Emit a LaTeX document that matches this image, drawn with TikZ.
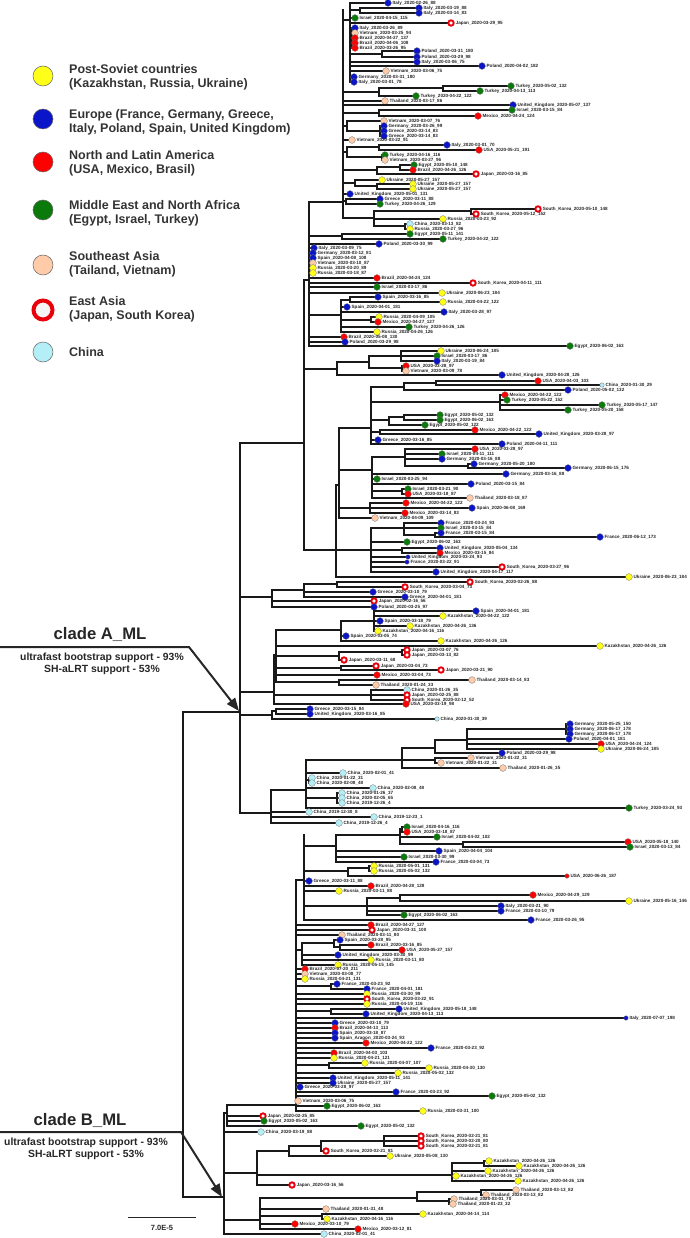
\documentclass[tikz,border=0pt]{standalone}
\usepackage{fontspec}
\setmainfont{Liberation Sans}
\usetikzlibrary{arrows.meta}

\definecolor{postsoviet}{HTML}{FFFF1A}
\definecolor{europe}{HTML}{0A14C8}
\definecolor{america}{HTML}{FF0000}
\definecolor{mena}{HTML}{0A7A0A}
\definecolor{seasia}{HTML}{FFCBA8}
\definecolor{eastasia}{HTML}{E8000B}
\definecolor{china}{HTML}{B4EEF7}
\newcommand{\taxonfont}{\fontsize{4.6}{5}\selectfont\bfseries}

\begin{document}
\begin{tikzpicture}[
    x=1pt, y=-1pt,
    branch/.style={line width=1.1pt, black!90, line cap=rect},
    leafdot/.style={circle, draw=black!55, line width=0.3pt, inner sep=0pt, minimum size=6.8pt},
    leafY/.style={leafdot, fill=postsoviet},
    leafB/.style={leafdot, fill=europe},
    leafR/.style={leafdot, fill=america},
    leafG/.style={leafdot, fill=mena},
    leafP/.style={leafdot, fill=seasia},
    leafC/.style={leafdot, fill=china},
    leafE/.style={circle, draw=eastasia, line width=1.9pt, fill=white, inner sep=0pt, minimum size=5.4pt},
    leafb/.style={leafB, minimum size=4.5pt},
    leafc/.style={leafC, minimum size=4.5pt},
    leafr/.style={leafR, minimum size=4.5pt},
    taxon/.style={anchor=west, inner sep=0.9pt, font=\taxonfont, text=black!85},
    legendkey/.style={circle, draw=black!60, line width=0.5pt, inner sep=0pt, minimum size=20pt},
    legendtext/.style={anchor=west, align=left, inner sep=0pt, font=\fontsize{12.5}{14}\selectfont\bfseries, text=black!80},
    cladename/.style={font=\fontsize{16.7}{18}\selectfont\bfseries, text=black!85},
    cladesupport/.style={align=center, font=\fontsize{10.4}{12}\selectfont\bfseries, text=black!85},
    cladearrow/.style={line width=2pt, black!85, -{Triangle[length=13pt,width=10pt]}}
]
\useasboundingbox (0,0) rectangle (689,1238);

% Legend
\node[legendkey, fill=postsoviet] (keyPS) at (43,76) {};
\node[legendtext] (txtPS) at (69,77) {Post-Soviet countries\\(Kazakhstan, Russia, Ukraine)};
\node[legendkey, fill=europe] (keyEU) at (43,119) {};
\node[legendtext] (txtEU) at (69,122) {Europe (France, Germany, Greece,\\Italy, Poland, Spain, United Kingdom)};
\node[legendkey, fill=america] (keyAM) at (43,162) {};
\node[legendtext] (txtAM) at (69,163) {North and Latin America\\(USA, Mexico, Brasil)};
\node[legendkey, fill=mena] (keyME) at (43,210) {};
\node[legendtext] (txtME) at (69,213) {Middle East and North Africa\\(Egypt, Israel, Turkey)};
\node[legendkey, fill=seasia] (keySE) at (43,265) {};
\node[legendtext] (txtSE) at (69,264) {Southeast Asia\\(Tailand, Vietnam)};
\node[legendkey, draw=eastasia, line width=4pt, fill=black!4, minimum size=19pt] (keyEA) at (43,310) {};
\node[legendtext] (txtEA) at (69,309) {East Asia\\(Japan, South Korea)};
\node[legendkey, fill=china] (keyCN) at (43,352) {};
\node[legendtext] (txtCN) at (69,352) {China};

% Internal nodes: x / top / bottom / parent x / joining y
\foreach \x/\ya/\yb/\px/\yc in {
    343/10/218/309/202, 350/3/82/343/20, 360/8/13/350/10, 352/28/48/350/38,
    382/51/57/350/54, 379/88/96/343/92, 443/86/91/379/88, 379/110/116/343/113,
    347/121/131/343/126, 380/126/136/347/131, 347/147/157/343/152,
    379/145/150/347/147, 382/155/160/347/157, 377/167/174/343/170,
    400/165/170/377/167, 355/180/186/343/183, 377/184/189/355/186,
    346/199/204/343/201, 374/211/226/343/218, 471/209/214/374/211,
    405/224/229/374/226,
    309/202/346/304/280, 342/234/239/309/236, 341/300/332/309/315,
    350/297/302/341/300, 371/317/322/341/320,
    304/280/550/240/443, 337/362/375/304/369, 369/356/368/337/362,
    401/351/361/369/356, 402/366/371/369/368,
    336/485/577/304/550, 339/428/518/336/485, 371/387/444/339/428,
    404/383/390/371/387, 436/381/385/404/383, 500/395/410/371/402,
    389/417/425/371/420, 404/415/420/389/417, 380/430/434/371/432,
    372/457/498/339/470, 405/449/466/372/457, 468/464/468/405/466,
    402/489/494/372/491, 370/503/513/339/508,
    371/528/572/336/550, 404/523/535/371/528, 435/533/537/404/535,
    402/548/553/371/550,
    240/443/813/183/712,
    272/590/607/240/597, 304/584/597/272/590, 337/582/587/304/584,
    274/655/704/240/692, 276/630/682/274/655, 341/621/641/276/630,
    374/611/631/341/621, 339/652/660/276/656, 402/650/655/339/652,
    341/666/670/276/668, 339/680/685/276/682, 371/690/700/274/695,
    272/711/719/240/715, 276/709/714/272/711,
    271/790/823/240/813, 306/760/808/271/790, 402/748/768/306/760,
    435/740/753/402/748, 467/729/749/435/740, 566/724/734/467/729,
    435/758/763/402/760, 309/778/783/306/780, 337/793/803/306/798,
    224/1113/1234/183/1197, 227/1105/1126/224/1113,
    296/880/1111/227/1105, 304/835/920/296/880, 336/835/862/304/846,
    400/829/844/336/835, 402/827/832/400/829, 463/842/847/400/844,
    348/868/876/304/871, 369/866/871/348/868, 367/898/915/304/906,
    400/895/901/367/898, 302/943/965/296/950, 334/940/947/302/943,
    340/945/950/334/947, 331/984/989/296/986, 331/1009/1014/296/1011,
    329/1063/1068/296/1065,
    257/1151/1185/224/1173, 289/1146/1156/257/1151, 321/1141/1151/289/1146,
    384/1136/1146/321/1141, 452/1163/1181/257/1175, 484/1161/1166/452/1163,
    260/1198/1229/224/1220, 417/1192/1201/260/1198, 481/1190/1195/417/1192,
    449/1199/1204/417/1201, 322/1214/1219/260/1216
}
{
    \draw[branch] (\x,\ya) -- (\x,\yb);
    \draw[branch] (\px,\yc) -- (\x,\yc);
}
% Root
\draw[branch] (183,712) -- (183,1197);

% Leaves: parent x / tip x / y / region / name
\foreach \px/\tx/\ty/\st/\lab [count=\n] in {
    350/388/3/B/Italy\_2020-02-26\_88,
    360/419/8/B/Italy\_2020-03-19\_88,
    360/419/13/B/Italy\_2020-03-14\_83,
    350/355/18/G/Israel\_2020-04-15\_115,
    350/451/23/E/Japan\_2020-03-29\_95,
    352/355/28/B/Italy\_2020-03-26\_89,
    352/355/33/P/Vietnam\_2020-03-25\_94,
    352/355/38/R/Brazil\_2020-04-27\_137,
    352/355/43/R/Brazil\_2020-04-06\_108,
    352/355/48/R/Brazil\_2020-03-26\_95,
    382/417/51/B/Poland\_2020-03-31\_180,
    382/417/57/B/Poland\_2020-03-29\_98,
    350/417/62/B/Italy\_2020-03-06\_75,
    350/482/66/B/Poland\_2020-04-02\_182,
    350/386/71/P/Vietnam\_2020-03-06\_75,
    350/354/77/B/Germany\_2020-03-31\_180,
    350/354/82/B/Italy\_2020-03-01\_78,
    443/511/86/G/Turkey\_2020-05-02\_132,
    443/480/91/G/Turkey\_2020-04-13\_113,
    379/416/96/G/Turkey\_2020-04-22\_122,
    343/385/101/P/Thailand\_2020-03-17\_86,
    343/513/105/B/United\_Kingdom\_2020-05-07\_137,
    379/512/110/G/Israel\_2020-03-15\_84,
    379/478/116/R/Mexico\_2020-04-24\_124,
    347/384/121/P/Vietnam\_2020-03-07\_76,
    380/384/126/B/Germany\_2020-03-26\_99,
    380/384/131/B/Greece\_2020-03-14\_83,
    380/384/136/B/Greece\_2020-03-14\_83,
    343/352/140/P/Vietnam\_2020-03-22\_91,
    379/447/145/B/Italy\_2020-03-01\_70,
    379/479/150/R/USA\_2020-05-21\_191,
    382/385/155/G/Turkey\_2020-04-16\_116,
    382/385/160/P/Vietnam\_2020-03-27\_96,
    400/414/165/G/Egypt\_2020-05-10\_148,
    400/413/170/R/Brazil\_2020-04-26\_126,
    377/476/174/E/Japan\_2020-03-16\_85,
    355/382/180/Y/Ukraine\_2020-05-27\_157,
    377/413/184/Y/Ukraine\_2020-05-27\_157,
    377/413/189/Y/Ukraine\_2020-05-27\_157,
    343/350/194/B/United\_Kingdom\_2020-05-01\_131,
    346/380/199/B/Greece\_2020-03-11\_88,
    346/380/204/G/Turkey\_2020-04-26\_129,
    471/538/209/E/South\_Korea\_2020-05-10\_148,
    471/476/214/E/South\_Korea\_2020-05-12\_152,
    374/443/219/Y/Russia\_2020-03-23\_92,
    405/410/224/C/China\_2020-03-13\_82,
    405/410/229/Y/Russia\_2020-03-27\_96,
    342/410/234/G/Egypt\_2020-05-11\_141,
    342/443/239/G/Turkey\_2020-04-22\_122,
    309/379/244/B/Poland\_2020-03-30\_99,
    309/314/248/B/Italy\_2020-03-09\_75,
    309/313/253/B/Germany\_2020-03-12\_81,
    309/313/258/B/Spain\_2020-04-08\_108,
    309/313/263/P/Vietnam\_2020-03-10\_87,
    309/313/268/Y/Russia\_2020-03-20\_89,
    309/313/273/Y/Russia\_2020-03-18\_87,
    309/377/278/R/Brazil\_2020-04-24\_124,
    309/473/283/E/South\_Korea\_2020-04-11\_111,
    309/377/287/G/Israel\_2020-03-17\_86,
    309/442/293/Y/Ukraine\_2020-06-23\_184,
    350/378/297/B/Spain\_2020-03-16\_85,
    350/443/302/Y/Russia\_2020-04-22\_122,
    341/347/307/B/Spain\_2020-04-01\_181,
    341/444/312/B/Italy\_2020-03-28\_97,
    371/379/317/Y/Russia\_2020-04-09\_105,
    371/378/322/R/Mexico\_2020-04-27\_127,
    341/409/327/G/Turkey\_2020-04-26\_126,
    341/377/332/Y/Russia\_2020-04-26\_126,
    309/344/337/R/Brazil\_2020-05-08\_130,
    309/345/342/B/Poland\_2020-03-29\_98,
    309/570/346/G/Egypt\_2020-06-02\_163,
    401/441/351/Y/Ukraine\_2020-06-24\_185,
    401/437/356/G/Israel\_2020-03-17\_86,
    401/437/361/B/Italy\_2020-03-19\_84,
    402/406/366/R/USA\_2020-03-28\_97,
    402/406/371/P/Vietnam\_2020-03-09\_78,
    337/502/375/B/United\_Kingdom\_2020-04-28\_126,
    436/538/381/R/USA\_2020-04-03\_103,
    436/602/385/c/China\_2020-01-30\_29,
    404/568/390/B/Poland\_2020-05-02\_132,
    500/505/395/R/Mexico\_2020-04-22\_122,
    500/507/400/G/Turkey\_2020-05-22\_152,
    500/602/405/G/Turkey\_2020-05-17\_147,
    500/568/410/G/Turkey\_2020-05-20\_158,
    404/440/415/G/Egypt\_2020-05-02\_132,
    404/440/420/G/Egypt\_2020-06-02\_163,
    389/425/425/G/Egypt\_2020-05-02\_122,
    380/475/430/R/Mexico\_2020-04-22\_122,
    380/539/434/B/United\_Kingdom\_2020-03-28\_97,
    371/378/440/B/Greece\_2020-03-16\_85,
    371/502/444/B/Poland\_2020-04-11\_111,
    405/475/449/R/USA\_2020-03-28\_97,
    405/442/454/G/Israel\_2020-04-11\_111,
    405/442/459/B/Germany\_2020-03-16\_88,
    468/474/464/B/Germany\_2020-05-20\_180,
    468/568/468/B/Germany\_2020-06-15\_176,
    372/506/474/B/Germany\_2020-03-16\_88,
    372/377/479/G/Israel\_2020-03-25\_94,
    372/471/484/B/Poland\_2020-03-15\_84,
    402/408/489/G/Israel\_2020-03-21\_90,
    402/408/494/R/USA\_2020-03-18\_87,
    372/470/498/P/Thailand\_2020-03-18\_87,
    370/406/503/R/Mexico\_2020-04-22\_122,
    370/472/508/B/Spain\_2020-06-08\_169,
    370/405/513/R/Mexico\_2020-03-14\_83,
    339/375/518/P/Vietnam\_2020-04-09\_109,
    404/441/523/B/France\_2020-03-24\_93,
    404/441/528/G/Israel\_2020-03-15\_84,
    435/441/533/B/France\_2020-03-15\_84,
    435/600/537/B/France\_2020-06-12\_173,
    371/407/542/G/Egypt\_2020-06-02\_163,
    402/440/548/B/United\_Kingdom\_2020-05-04\_134,
    402/440/553/R/Mexico\_2020-03-15\_84,
    371/408/557/b/United\_Kingdom\_2020-03-24\_93,
    371/407/562/b/France\_2020-03-22\_91,
    371/502/567/E/South\_Korea\_2020-03-27\_96,
    371/436/572/B/United\_Kingdom\_2020-04-17\_117,
    336/629/577/Y/Ukraine\_2020-06-23\_184,
    337/470/582/E/South\_Korea\_2020-02-26\_88,
    337/405/587/E/South\_Korea\_2020-03-04\_73,
    304/373/592/B/Greece\_2020-03-10\_79,
    304/405/597/B/Greece\_2020-04-01\_181,
    272/374/601/E/Japan\_2020-02-16\_56,
    272/374/607/B/Poland\_2020-03-25\_97,
    374/476/611/B/Spain\_2020-04-01\_181,
    374/443/616/Y/Kazakhstan\_2020-04-22\_122,
    374/380/621/B/Spain\_2020-03-18\_79,
    374/410/626/Y/Kazakhstan\_2020-04-26\_136,
    374/378/631/Y/Kazakhstan\_2020-04-16\_116,
    341/346/636/B/Spain\_2020-03-05\_74,
    341/441/641/Y/Kazakhstan\_2020-04-26\_126,
    276/600/646/Y/Kazakhstan\_2020-04-26\_126,
    402/407/650/E/Japan\_2020-03-07\_76,
    402/407/655/E/Japan\_2020-03-13\_82,
    339/344/660/E/Japan\_2020-03-11\_68,
    341/376/666/E/Japan\_2020-03-04\_73,
    341/441/670/E/Japan\_2020-03-21\_90,
    276/377/675/R/Mexico\_2020-03-04\_73,
    339/472/680/P/Thailand\_2020-03-14\_83,
    339/376/685/P/Thailand\_2020-01-24\_33,
    371/407/690/C/China\_2020-01-26\_35,
    371/407/695/E/Japan\_2020-02-25\_88,
    371/407/700/E/South\_Korea\_2020-02-12\_52,
    274/406/704/R/USA\_2020-03-19\_98,
    276/310/709/B/Greece\_2020-03-15\_84,
    276/310/714/B/United\_Kingdom\_2020-03-16\_85,
    272/437/719/c/China\_2020-01-30\_39,
    566/570/724/B/Germany\_2020-05-25\_150,
    566/570/729/B/Germany\_2020-06-17\_178,
    566/570/734/B/Germany\_2020-06-17\_178,
    467/569/739/B/Poland\_2020-04-01\_181,
    467/601/744/R/USA\_2020-04-24\_124,
    467/601/749/Y/Ukraine\_2020-06-24\_185,
    435/502/753/B/Poland\_2020-03-29\_98,
    435/471/758/P/Vietnam\_2020-01-22\_31,
    435/441/763/P/Vietnam\_2020-01-22\_31,
    402/503/768/P/Thailand\_2020-01-26\_35,
    306/343/773/C/China\_2020-02-01\_41,
    309/312/778/C/China\_2020-01-22\_31,
    309/312/783/C/China\_2020-02-08\_48,
    306/373/788/C/China\_2020-02-08\_48,
    337/342/793/C/China\_2020-01-26\_37,
    337/342/798/C/China\_2020-02-05\_65,
    337/342/803/C/China\_2019-12-26\_4,
    306/629/808/G/Turkey\_2020-03-24\_93,
    271/309/812/C/China\_2019-12-30\_8,
    271/374/817/C/China\_2019-12-23\_1,
    271/339/823/C/China\_2019-12-26\_4,
    402/407/827/G/Israel\_2020-04-16\_116,
    402/407/832/R/USA\_2020-03-18\_87,
    400/437/837/G/Israel\_2020-04-02\_102,
    463/628/842/R/USA\_2020-05-18\_140,
    463/630/847/G/Israel\_2020-03-13\_84,
    336/439/851/B/Spain\_2020-04-04\_104,
    336/404/857/G/Israel\_2020-03-30\_99,
    336/436/862/B/France\_2020-03-04\_73,
    369/374/866/Y/Russia\_2020-05-01\_131,
    369/374/871/Y/Russia\_2020-05-02\_132,
    348/567/876/r/USA\_2020-06-26\_187,
    304/309/881/B/Greece\_2020-03-11\_88,
    304/371/886/R/Brazil\_2020-04-28\_128,
    304/339/891/Y/Russia\_2020-03-11\_88,
    400/533/895/R/Mexico\_2020-04-29\_129,
    400/629/901/Y/Ukraine\_2020-05-16\_146,
    367/501/906/B/Italy\_2020-03-21\_90,
    367/501/911/B/France\_2020-03-10\_79,
    367/404/915/G/Egypt\_2020-06-02\_163,
    304/531/920/B/France\_2020-03-26\_95,
    296/371/925/R/Brazil\_2020-04-27\_127,
    296/372/930/E/Japan\_2020-03-31\_100,
    296/342/935/P/Thailand\_2020-03-11\_80,
    334/340/940/B/Spain\_2020-03-28\_95,
    340/371/945/R/Brazil\_2020-03-16\_85,
    340/402/950/R/USA\_2020-05-27\_157,
    302/338/955/B/United\_Kingdom\_2020-03-30\_99,
    302/371/960/Y/Russia\_2020-03-11\_80,
    302/338/965/Y/Russia\_2020-05-15\_145,
    296/305/969/R/Brazil\_2020-07-20\_211,
    296/305/974/P/Vietnam\_2020-03-08\_77,
    296/305/979/Y/Russia\_2020-04-21\_131,
    331/337/984/B/France\_2020-03-23\_92,
    331/367/989/B/France\_2020-04-01\_181,
    296/367/994/Y/Russia\_2020-03-30\_99,
    296/367/999/E/South\_Korea\_2020-03-22\_91,
    296/367/1004/Y/Russia\_2020-04-19\_116,
    331/399/1009/B/United\_Kingdom\_2020-05-18\_148,
    331/366/1014/B/United\_Kingdom\_2020-04-13\_113,
    296/626/1018/b/Italy\_2020-07-07\_198,
    296/335/1023/B/Greece\_2020-03-10\_79,
    296/335/1028/R/Brazil\_2020-04-13\_113,
    296/335/1033/B/Spain\_2020-03-18\_87,
    296/335/1038/B/Spain\_Aragon\_2020-03-24\_93,
    296/366/1043/R/Mexico\_2020-04-22\_122,
    296/431/1048/B/France\_2020-03-23\_92,
    296/334/1053/R/Brazil\_2020-04-03\_103,
    296/334/1058/Y/Russia\_2020-04-21\_121,
    329/365/1063/Y/Russia\_2020-04-07\_107,
    329/429/1068/Y/Russia\_2020-04-30\_130,
    296/398/1073/Y/Russia\_2020-05-02\_132,
    296/333/1078/B/United\_Kingdom\_2020-05-11\_141,
    296/333/1083/B/Ukraine\_2020-05-27\_157,
    296/300/1087/B/Greece\_2020-03-28\_97,
    296/396/1092/B/France\_2020-03-23\_92,
    296/492/1096/G/Egypt\_2020-05-02\_132,
    296/298/1101/P/Vietnam\_2020-03-06\_75,
    296/327/1106/G/Egypt\_2020-06-02\_163,
    296/423/1111/Y/Russia\_2020-03-31\_100,
    227/263/1116/E/Japan\_2020-02-25\_85,
    227/264/1121/G/Egypt\_2020-05-02\_163,
    227/361/1126/G/Egypt\_2020-05-02\_132,
    224/261/1132/C/China\_2020-03-19\_88,
    384/421/1136/E/South\_Korea\_2020-02-21\_81,
    384/421/1141/E/South\_Korea\_2020-02-20\_80,
    384/421/1146/E/South\_Korea\_2020-02-21\_81,
    321/326/1151/E/South\_Korea\_2020-02-21\_81,
    289/390/1156/Y/Ukraine\_2020-05-08\_130,
    484/489/1161/Y/Kazakhstan\_2020-04-26\_126,
    484/519/1166/Y/Kazakhstan\_2020-04-26\_126,
    452/488/1171/Y/Kazakhstan\_2020-04-26\_126,
    452/456/1176/Y/Kazakhstan\_2020-04-26\_126,
    452/518/1181/Y/Kazakhstan\_2020-04-26\_126,
    257/292/1185/E/Japan\_2020-03-16\_56,
    481/516/1190/P/Thailand\_2020-03-13\_82,
    481/486/1195/P/Thailand\_2020-03-13\_82,
    449/454/1199/P/Thailand\_2020-03-01\_70,
    449/453/1204/P/Thailand\_2020-01-23\_32,
    260/326/1209/P/Thailand\_2020-01-31\_48,
    322/423/1214/Y/Kazakhstan\_2020-04-14\_114,
    322/327/1219/Y/Kazakhstan\_2020-04-16\_116,
    260/295/1224/R/Mexico\_2020-03-10\_79,
    260/358/1229/R/Mexico\_2020-03-12\_81,
    224/324/1234/C/China\_2020-02-01\_41
}
{
    \draw[branch] (\px,\ty) -- (\tx,\ty) node[leaf\st] (leaf\n) {};
    \node[taxon] (name\n) at (leaf\n.east) {\lab};
}

% Clade labels
\node[cladename] (cladeA) at (100,634) {clade A\_ML};
\node[cladesupport] (supportA) at (102,664) {ultrafast bootstrap support - 93\%\\SH-aLRT support - 53\%};
\coordinate (nodeA) at (239,711);
\draw[cladearrow] (0,647) -- (189,647) -- (nodeA);

\node[cladename] (cladeB) at (80,1120) {clade B\_ML};
\node[cladesupport] (supportB) at (86,1149) {ultrafast bootstrap support - 93\%\\SH-aLRT support - 53\%};
\coordinate (nodeB) at (222,1197);
\draw[cladearrow] (0,1132) -- (181,1132) -- (nodeB);

% Scale bar
\coordinate (scaleL) at (128,1217);
\coordinate (scaleR) at (196,1217);
\draw[line width=1pt, black!85] (scaleL) -- (scaleR);
\node[font=\fontsize{7.5}{8}\selectfont\bfseries, text=black!85] (scaletext) at (162,1228) {7.0E-5};

\end{tikzpicture}
\end{document}
